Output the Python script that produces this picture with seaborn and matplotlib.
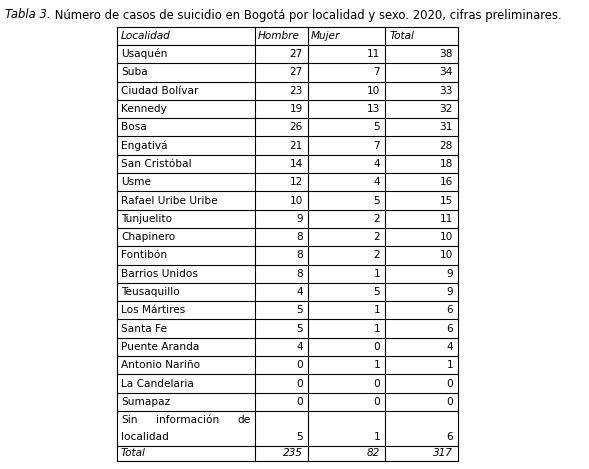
import matplotlib
matplotlib.use("Agg")
import matplotlib.pyplot as plt
import seaborn as sns

# ==== DATA ====
localidades = ["Usaquén", "Suba", "Ciudad Bolívar", "Kennedy", "Bosa", "Engativá",
               "San Cristóbal", "Usme", "Rafael Uribe Uribe", "Tunjuelito", "Chapinero",
               "Fontibón", "Barrios Unidos", "Teusaquillo", "Los Mártires", "Santa Fe",
               "Puente Aranda", "Antonio Nariño", "La Candelaria", "Sumapaz"]
hombre = [27, 27, 23, 19, 26, 21, 14, 12, 10, 9, 8, 8, 8, 4, 5, 5, 4, 0, 0, 0]
mujer = [11, 7, 10, 13, 5, 7, 4, 4, 5, 2, 2, 2, 1, 5, 1, 1, 0, 1, 0, 0]
total = [38, 34, 33, 32, 31, 28, 18, 16, 15, 11, 10, 10, 9, 9, 6, 6, 4, 1, 0, 0]
sin_info = (5, 1, 6)
totales = (235, 82, 317)
headers = ["Localidad", "Hombre", "Mujer", "Total"]
titulo_it = "Tabla 3."
titulo = " Número de casos de suicidio en Bogotá por localidad y sexo. 2020, cifras preliminares."

sns.set_style("white")
plt.rcParams["font.family"] = ["DejaVu Sans"]
plt.rcParams["text.color"] = "black"

fig = plt.figure(figsize=(5.89, 4.69), dpi=100)
ax = fig.add_axes([0, 0, 1, 1])
ax.set_xlim(0, 589)
ax.set_ylim(469, 0)
ax.axis("off")

fs = 7.6
col_x = [117, 255, 308, 385, 458]
right_x = [None, 303, 380, 453]
top = 27
rh = 18.3
header_bot = 45
n = len(localidades)
sin_top = header_bot + n * rh
sin_bot = sin_top + 35
tot_bot = sin_bot + 15

# title
tfs = 8.4
t = ax.text(5, 15, titulo_it, fontsize=tfs, style="italic", va="center")
fig.canvas.draw()
bb = t.get_window_extent()
ax.text(5 + bb.width, 15, titulo, fontsize=tfs, va="center")

# grid lines
ys = [top, header_bot] + [header_bot + (i + 1) * rh for i in range(n)] + [sin_bot, tot_bot]
for y in ys:
    ax.plot([col_x[0], col_x[-1]], [y, y], color="black", lw=0.8)
for x in col_x:
    ax.plot([x, x], [top, tot_bot], color="black", lw=0.8)

# header
hy = (top + header_bot) / 2
ax.text(col_x[0] + 4, hy, headers[0], fontsize=fs, style="italic", va="center")
ax.text(col_x[1] + 3, hy, headers[1], fontsize=fs, style="italic", va="center")
ax.text(col_x[2] + 3, hy, headers[2], fontsize=fs, style="italic", va="center")
ax.text(col_x[3] + 5, hy, headers[3], fontsize=fs, style="italic", va="center")

# body
for i, (loc, h, m, tt) in enumerate(zip(localidades, hombre, mujer, total)):
    y = header_bot + (i + 0.5) * rh
    ax.text(col_x[0] + 4, y, loc, fontsize=fs, va="center")
    for xr, v in zip(right_x[1:], (h, m, tt)):
        ax.text(xr, y, str(v), fontsize=fs, va="center", ha="right")

# sin informacion
y1 = sin_top + 9
y2 = sin_top + 26
ax.text(col_x[0] + 4, y1, "Sin", fontsize=fs, va="center")
ax.text((col_x[0] + col_x[1]) / 2 + 2, y1, "información", fontsize=fs, va="center", ha="center")
ax.text(col_x[1] - 4, y1, "de", fontsize=fs, va="center", ha="right")
ax.text(col_x[0] + 4, y2, "localidad", fontsize=fs, va="center")
for xr, v in zip(right_x[1:], sin_info):
    ax.text(xr, y2, str(v), fontsize=fs, va="center", ha="right")

# total
ty = (sin_bot + tot_bot) / 2
ax.text(col_x[0] + 4, ty, "Total", fontsize=fs, style="italic", va="center")
for xr, v in zip(right_x[1:], totales):
    ax.text(xr, ty, str(v), fontsize=fs, style="italic", va="center", ha="right")

fig.savefig("out.png", dpi=100)
